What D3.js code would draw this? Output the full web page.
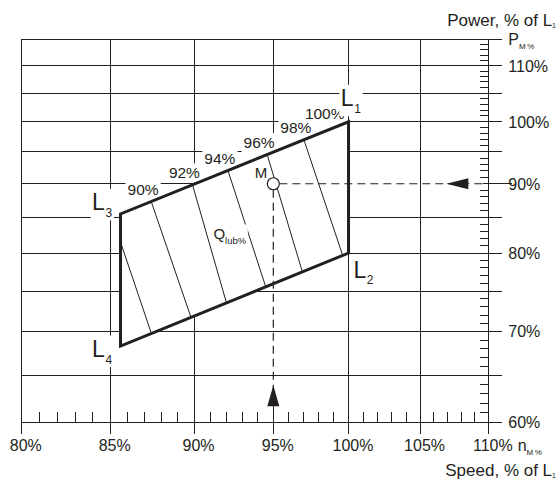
<!DOCTYPE html>
<html><head><meta charset="utf-8">
<script src="https://cdn.jsdelivr.net/npm/d3@7"></script>
<style>
body{margin:0;background:#fff}
svg{display:block}
text{font-family:"Liberation Sans",Arial,Helvetica,sans-serif;fill:#231f20}
</style>
</head><body><svg id="c" width="560" height="486"></svg>
<script>
// ---- data ----
const speedGrid = [80, 85, 90, 95, 100, 105, 110];
const speedTickLabels = ["80%", "85%", "90%", "95%", "100%", "105%", "110%"];
const powerGrid = [60, 65, 70, 75, 80, 85, 90, 95, 100, 105, 110, 115];
const powerTickValues = [60, 70, 80, 90, 100, 110];
const powerTickLabels = ["60%", "70%", "80%", "90%", "100%", "110%"];

// layout corners, in drawing order L1, L2, L4, L3
const cornerNames = ["1", "2", "4", "3"];
const cornerSpeed = [100, 100, 85.6, 85.6];
const cornerPower = [100, 80, 68.3, 85.5];

// lubrication-oil percentage lines
const qLabels = ["90%", "92%", "94%", "96%", "98%", "100%"];
const qSpeed = [87.4, 89.9, 92.1, 94.6, 97.0, 100];
const hatchTopSpeed = [85.6, 87.4, 89.9, 92.1, 94.6, 97.0];
const hatchTopPower = [81.5, 87.4, 89.9, 92.1, 94.6, 97.0];
const hatchBottomSpeed = [87.4, 89.8, 92.0, 94.5, 96.9, 99.6];
const hatchBottomPower = [69.9, 71.8, 73.6, 75.6, 77.5, 79.7];
const qLubAt = [91.2, 82.0];

const mSpeed = 95, mPower = 90;

// ---- drawing ----
const ink = "#231f20";
const svg = d3.select("#c");
const x = d3.scaleLog().domain([80, 110]).range([21.3, 488.3]);
const y = d3.scaleLog().domain([60, 110]).range([422.3, 65.7]);
const xL = x(80), xR = x(110), yT = y(115), yB = y(60);
const xM = x(mSpeed), yM = y(mPower);

const grid = svg.append("g").attr("stroke", ink).attr("stroke-width", 1).attr("shape-rendering", "crispEdges");
powerGrid.forEach(p => {
  const segs = p === mPower ? [[xL, xM], [xR - 5, xR + 24]] : [[xL, xR + 14]];
  segs.forEach(s => grid.append("line").attr("x1", s[0]).attr("x2", s[1]).attr("y1", y(p)).attr("y2", y(p)));
});
speedGrid.forEach(v => {
  const segs = v === mSpeed ? [[yT, yM], [yB - 16, yB + 12]] : [[yT, yB + 12]];
  segs.forEach(s => grid.append("line").attr("x1", x(v)).attr("x2", x(v)).attr("y1", s[0]).attr("y2", s[1]));
});

// minor ticks
d3.range(81, 110).filter(v => v % 5 !== 0).forEach(v => {
  grid.append("line").attr("x1", x(v)).attr("x2", x(v)).attr("y1", yB).attr("y2", yB - 10);
});
d3.range(61, 115).filter(v => v % 5 !== 0).forEach(v => {
  grid.append("line").attr("x1", xR - 8).attr("x2", xR).attr("y1", y(v)).attr("y2", y(v));
});

// polygon fill
const corners = cornerSpeed.map((s, i) => [x(s), y(cornerPower[i])]);
const line = d3.line();
svg.append("path").attr("d", line(corners) + "Z").attr("fill", "#fff").attr("stroke", "none");

// hatch lines
hatchTopSpeed.forEach((s, i) => {
  svg.append("line")
    .attr("x1", x(s)).attr("y1", y(hatchTopPower[i]))
    .attr("x2", x(hatchBottomSpeed[i])).attr("y2", y(hatchBottomPower[i]))
    .attr("stroke", ink).attr("stroke-width", 1);
});

function boxed(g, pad) {
  const b = g.node().getBBox();
  g.insert("rect", ":first-child")
    .attr("x", b.x - pad).attr("y", b.y + 1 - pad)
    .attr("width", b.width + 2 * pad).attr("height", b.height - 2 + 2 * pad)
    .attr("fill", "#fff");
}

// L1-L3 edge power as function of speed (log interpolation)
const L3 = [cornerSpeed[3], cornerPower[3]], L1 = [cornerSpeed[0], cornerPower[0]];
const kEdge = Math.log(L1[1] / L3[1]) / Math.log(L1[0] / L3[0]);
const edgePower = s => L3[1] * Math.pow(s / L3[0], kEdge);

// Q labels along the top edge
qLabels.forEach((lab, i) => {
  const g = svg.append("g");
  const s = qSpeed[i];
  const last = i === qLabels.length - 1;
  g.append("text")
    .attr("x", last ? x(s) - 4 : x(s) - 8)
    .attr("y", last ? y(edgePower(s)) - 3 : y(edgePower(s)) - 6.5)
    .attr("text-anchor", last ? "end" : "middle")
    .attr("font-size", 15.5)
    .text(lab);
  boxed(g, 2);
});

// Q_lub% label
{
  const g = svg.append("g");
  const t = g.append("text").attr("x", x(qLubAt[0])).attr("y", y(qLubAt[1])).attr("font-size", 15);
  t.append("tspan").text("Q");
  t.append("tspan").attr("font-size", 9.5).attr("dy", 5).text("lub%");
  boxed(g, 1);
}

// dashed guide lines and arrows
svg.append("line").attr("x1", xM + 6).attr("x2", xR - 5).attr("y1", yM).attr("y2", yM)
  .attr("stroke", ink).attr("stroke-width", 1.2).attr("stroke-dasharray", "8,5");
svg.append("line").attr("x1", xM).attr("x2", xM).attr("y1", yM + 6).attr("y2", yB - 30)
  .attr("stroke", ink).attr("stroke-width", 1.2).attr("stroke-dasharray", "8,5");
svg.append("path")
  .attr("d", line([[xR - 42, yM], [xR - 20, yM - 5.5], [xR - 20, yM + 5.5]]) + "Z")
  .attr("fill", ink);
svg.append("path")
  .attr("d", line([[xM, yB - 37], [xM - 6, yB - 16], [xM + 6, yB - 16]]) + "Z")
  .attr("fill", ink);

// polygon outline
svg.append("path").attr("d", line(corners) + "Z").attr("fill", "none")
  .attr("stroke", ink).attr("stroke-width", 3).attr("stroke-linejoin", "miter");

// M point
svg.append("circle").attr("cx", xM).attr("cy", yM).attr("r", 6)
  .attr("fill", "#fff").attr("stroke", ink).attr("stroke-width", 1.2);
svg.append("text").attr("x", xM - 6).attr("y", yM - 6).attr("text-anchor", "end")
  .attr("font-size", 15).text("M");

// L labels
const cornerLabelOffset = [[-7.7, -15.6], [5, 24.7], [-28.4, 11], [-28.4, -3.6]];
cornerNames.forEach((n, i) => {
  const g = svg.append("g");
  const t = g.append("text")
    .attr("x", corners[i][0] + cornerLabelOffset[i][0])
    .attr("y", corners[i][1] + cornerLabelOffset[i][1])
    .attr("font-size", 23);
  t.append("tspan").text("L");
  t.append("tspan").attr("font-size", 12).attr("dx", 0.5).attr("dy", 6.5).text(n);
  boxed(g, 1.5);
});

// axis tick labels
speedGrid.forEach((v, i) => {
  svg.append("text").attr("x", x(v) + 4.5).attr("y", yB + 29)
    .attr("text-anchor", "middle").attr("font-size", 16).text(speedTickLabels[i]);
});
powerTickValues.forEach((v, i) => {
  svg.append("text").attr("x", xR + 20).attr("y", y(v) + 5.8)
    .attr("font-size", 16).text(powerTickLabels[i]);
});

// axis symbols and titles
{
  const t = svg.append("text").attr("x", xR + 20).attr("y", yT + 5.5).attr("font-size", 16);
  t.append("tspan").text("P");
  t.append("tspan").attr("font-size", 8).attr("dy", 4).attr("letter-spacing", 1.5).text("M%");
}
{
  const t = svg.append("text").attr("x", 517.7).attr("y", yB + 29).attr("font-size", 16);
  t.append("tspan").text("n");
  t.append("tspan").attr("font-size", 8).attr("dy", 4).attr("letter-spacing", 1.5).text("M%");
}
{
  const t = svg.append("text").attr("x", 556).attr("y", 26).attr("text-anchor", "end").attr("font-size", 17);
  t.append("tspan").text("Power, % of L");
  t.append("tspan").attr("font-size", 7).attr("dy", 2).text("1");
}
{
  const t = svg.append("text").attr("x", 556).attr("y", 476).attr("text-anchor", "end").attr("font-size", 17);
  t.append("tspan").text("Speed, % of L");
  t.append("tspan").attr("font-size", 7).attr("dy", 2).text("1");
}
</script>
</body></html>
